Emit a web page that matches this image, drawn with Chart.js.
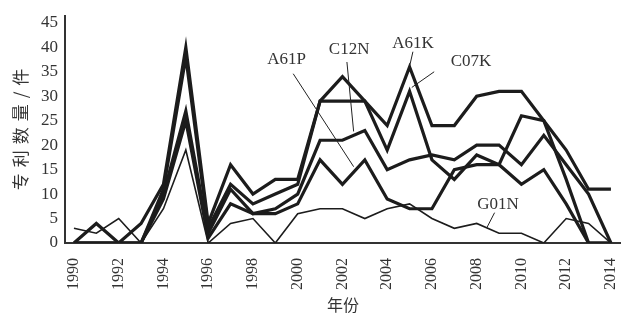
<!DOCTYPE html>
<html>
<head>
<meta charset="utf-8">
<script src="https://cdn.jsdelivr.net/npm/chart.js@4/dist/chart.umd.min.js"></script>
<style>
  html, body { margin: 0; padding: 0; background: #fff; }
  #wrap { width: 621px; height: 316px; }
</style>
</head>
<body>
<div id="wrap"><canvas id="grafica"></canvas></div>
<script>
// 年份 and patent counts per IPC class
const years = [1990, 1991, 1992, 1993, 1994, 1995, 1996, 1997, 1998, 1999, 2000, 2001, 2002,
               2003, 2004, 2005, 2006, 2007, 2008, 2009, 2010, 2011, 2012, 2013, 2014];
const A61K = [0, 0, 0, 4, 12, 40, 4, 16, 10, 13, 13, 29, 34, 29, 24, 36, 24, 24, 30, 31, 31, 25, 19, 11, 11];
const C07K = [0, 0, 0, 0, 11, 38, 3, 12, 8, 10, 12, 29, 29, 29, 19, 31, 17, 13, 18, 16, 26, 25, 13, 0, 0];
const C12N = [0, 4, 0, 0, 10, 27, 2, 11, 6, 7, 10, 21, 21, 23, 15, 17, 18, 17, 20, 20, 16, 22, 16, 10, 0];
const A61P = [0, 0, 0, 0, 9, 25, 1, 8, 6, 6, 8, 17, 12, 17, 9, 7, 7, 15, 16, 16, 12, 15, 8, 0, 0];
const G01N = [3, 2, 5, 0, 7, 19, 0, 4, 5, 0, 6, 7, 7, 5, 7, 8, 5, 3, 4, 2, 2, 0, 5, 4, 0];

const xTicks = [1990, 1992, 1994, 1996, 1998, 2000, 2002, 2004, 2006, 2008, 2010, 2012, 2014];
const yTicks = [0, 5, 10, 15, 20, 25, 30, 35, 40, 45];

// series name labels with leader lines, in data units: [text, textX, textY, fromX, fromY, toX, toY]
const seriesLabels = [
    ['A61P', 1999.5, 37.6, 1999.8, 34.6, 2002.5, 15.6],
    ['C12N', 2002.3, 39.6, 2002.2, 37.0, 2002.5, 22.8],
    ['A61K', 2005.15, 40.7, 2005.15, 39.1, 2005.0, 36.1],
    ['C07K', 2007.75, 37.0, 2006.1, 35.0, 2005.1, 31.8],
    ['G01N', 2008.95, 7.9, 2008.8, 6.2, 2008.45, 3.1]
];

const serif = "'Liberation Serif', 'DejaVu Serif', serif";
const cjk = "'Noto Sans CJK SC', sans-serif";

function puntos(valores) {
    return years.map((y, i) => ({ x: y, y: valores[i] }));
}

function serie(nombre, valores, grosor) {
    return {
        label: nombre,
        data: puntos(valores),
        borderColor: '#1c1c1c',
        borderWidth: grosor,
        pointRadius: 0,
        tension: 0,
        fill: false,
        borderJoinStyle: 'miter',
        borderCapStyle: 'butt'
    };
}

const etiquetas = {
    id: 'etiquetas',
    afterDatasetsDraw(chart) {
        const ctx = chart.ctx;
        const sx = chart.scales.x, sy = chart.scales.y;
        ctx.save();
        ctx.strokeStyle = '#222';
        ctx.lineWidth = 1;
        ctx.fillStyle = '#333';
        ctx.font = '17px ' + serif;
        ctx.textAlign = 'center';
        ctx.textBaseline = 'middle';
        seriesLabels.forEach(l => {
            ctx.beginPath();
            ctx.moveTo(sx.getPixelForValue(l[3]), sy.getPixelForValue(l[4]));
            ctx.lineTo(sx.getPixelForValue(l[5]), sy.getPixelForValue(l[6]));
            ctx.stroke();
            ctx.fillText(l[0], sx.getPixelForValue(l[1]), sy.getPixelForValue(l[2]));
        });
        // y axis title, spaced out like the original
        const area = chart.chartArea;
        ctx.translate(21, (area.top + area.bottom) / 2);
        ctx.rotate(-Math.PI / 2);
        ctx.font = '17px ' + cjk;
        ctx.letterSpacing = '6px';
        ctx.fillText('专利数量/件', 3, 0);
        ctx.restore();
    }
};

const ctx = document.getElementById('grafica').getContext('2d');
const myChart = new Chart(ctx, {
    type: 'line',
    data: {
        datasets: [
            serie('A61K', A61K, 3.2),
            serie('C07K', C07K, 3.2),
            serie('C12N', C12N, 3.2),
            serie('A61P', A61P, 3.2),
            serie('G01N', G01N, 1.6)
        ]
    },
    options: {
        responsive: true,
        maintainAspectRatio: false,
        animation: false,
        layout: { padding: { top: 16, right: 0, left: 0, bottom: 0 } },
        plugins: {
            legend: { display: false },
            tooltip: { enabled: false }
        },
        scales: {
            x: {
                type: 'linear',
                min: 1989.6,
                max: 2014.45,
                afterBuildTicks: scale => { scale.ticks = xTicks.map(v => ({ value: v })); },
                afterFit: scale => {
                    scale.height = 73;
                    scale.paddingLeft = 0;
                    scale.paddingRight = 0;
                },
                grid: { display: false, drawTicks: true, tickLength: 4, tickColor: '#333' },
                border: { display: true, color: '#333', width: 2 },
                ticks: {
                    autoSkip: false,
                    minRotation: 90,
                    maxRotation: 90,
                    padding: 11,
                    color: '#333',
                    font: { family: serif, size: 16 },
                    callback: v => String(v)
                },
                title: {
                    display: true,
                    text: '年份',
                    color: '#333',
                    font: { family: cjk, size: 16 },
                    padding: { top: 0, bottom: 1 }
                }
            },
            y: {
                min: 0,
                max: 46.4,
                afterBuildTicks: scale => { scale.ticks = yTicks.map(v => ({ value: v })); },
                afterFit: scale => {
                    scale.width = 65;
                    scale.paddingTop = 0;
                    scale.paddingBottom = 0;
                },
                grid: { display: false, drawTicks: true, tickLength: 4, tickColor: '#333' },
                border: { display: true, color: '#333', width: 2 },
                ticks: {
                    padding: 3,
                    color: '#333',
                    font: { family: serif, size: 17 },
                    callback: v => String(v)
                }
            }
        }
    },
    plugins: [etiquetas]
});
</script>
</body>
</html>
